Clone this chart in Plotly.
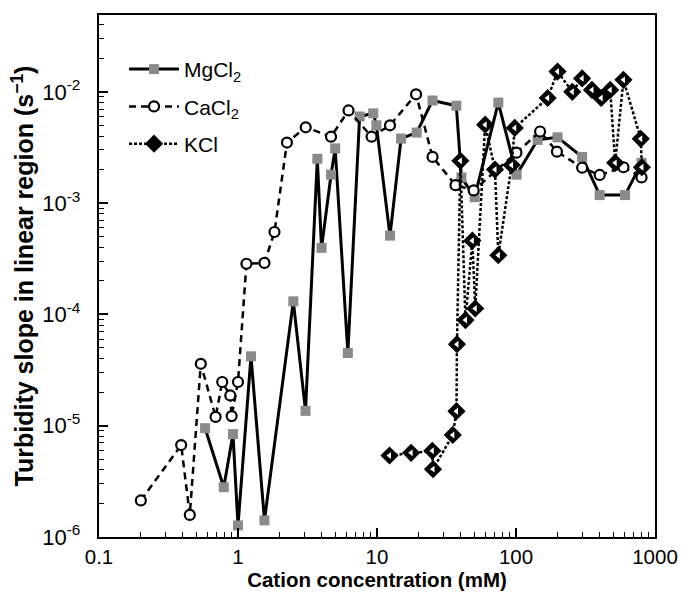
import plotly.graph_objects as go

# ---- data ----
mg_x = [0.58, 0.79, 0.92, 1.0, 1.24, 1.55, 2.5, 3.06, 3.72, 3.99, 4.67, 5.0, 6.17,
        7.5, 9.4, 9.9, 12.4, 14.9, 19.3, 25.1, 37.2, 40.5, 50.4, 74.6, 101, 143,
        199, 299, 400, 609, 800]
mg_y = [9.5e-6, 2.8e-6, 8.4e-6, 1.27e-6, 4.2e-5, 1.41e-6, 1.31e-4, 1.36e-5, 2.5e-3,
        3.96e-4, 1.8e-3, 3.1e-3, 4.5e-5, 6.0e-3, 6.4e-3, 5.0e-3, 5.1e-4, 3.8e-3,
        4.3e-3, 8.35e-3, 7.5e-3, 1.7e-3, 1.13e-3, 8.0e-3, 1.8e-3, 3.7e-3, 3.9e-3,
        2.6e-3, 1.18e-3, 1.18e-3, 2.3e-3]

ca_x = [0.2, 0.39, 0.45, 0.54, 0.69, 0.77, 0.88, 0.9, 1.0, 1.15, 1.55, 1.83, 2.25,
        3.07, 4.67, 6.24, 9.14, 12.4, 19.1, 25.1, 36.7, 49.6, 100.7, 149, 197, 299,
        400, 593, 800]
ca_y = [2.13e-6, 6.7e-6, 1.58e-6, 3.6e-5, 1.2e-5, 2.47e-5, 1.87e-5, 1.22e-5, 2.47e-5,
        2.85e-4, 2.9e-4, 5.5e-4, 3.5e-3, 4.8e-3, 3.95e-3, 6.8e-3, 3.95e-3, 5.0e-3,
        9.5e-3, 2.6e-3, 1.45e-3, 1.3e-3, 2.84e-3, 4.4e-3, 2.9e-3, 2.08e-3, 1.79e-3,
        2.1e-3, 1.7e-3]

k_x = [12.3, 17.6, 25.0, 25.3, 35.1, 37.3, 37.6, 39.8, 43.3, 48.5, 50.9, 60, 70.6,
       74.6, 93, 98, 169, 199, 254, 299, 352, 410, 476, 517, 593, 790, 805]
k_y = [5.4e-6, 5.7e-6, 5.95e-6, 4.07e-6, 8.26e-6, 1.35e-5, 5.4e-5, 2.4e-3, 8.9e-5,
       4.6e-4, 1.13e-4, 5.07e-3, 2.0e-3, 3.4e-4, 2.2e-3, 4.74e-3, 8.8e-3, 1.52e-2,
       1.0e-2, 1.32e-2, 1.04e-2, 8.8e-3, 1.04e-2, 2.3e-3, 1.28e-2, 3.78e-3, 2.1e-3]

x_tickvals = [0.1, 1, 10, 100, 1000]
x_ticktext = ["0.1", "1", "10", "100", "1000"]
y_tickvals = [1e-6, 1e-5, 1e-4, 1e-3, 1e-2]
y_ticktext = ["10<sup>-6</sup>\u00a0\u00a0", "10<sup>-5</sup>\u00a0\u00a0",
              "10<sup>-4</sup>\u00a0\u00a0", "10<sup>-3</sup>\u00a0\u00a0",
              "10<sup>-2</sup>\u00a0\u00a0"]
X_RANGE = [-1, 3]
Y_RANGE = [-6, -1.31]

# minor tick positions (2..9 in each decade)
x_minor = [m * 10 ** e for e in range(-1, 3) for m in range(2, 10)]
y_minor = [m * 10 ** e for e in range(-6, -1) for m in range(2, 10)]

FONT = "Liberation Sans, Arial, sans-serif"

fig = go.Figure()

fig.add_trace(go.Scatter(
    x=mg_x, y=mg_y, mode="lines+markers", name="MgCl<sub>2</sub>",
    legendgroup="mg",
    line=dict(color="black", width=3),
    marker=dict(symbol="square", size=10, color="#8a8a8a",
                line=dict(color="#8a8a8a", width=0)),
))

fig.add_trace(go.Scatter(
    x=ca_x, y=ca_y, mode="lines+markers", name="CaCl<sub>2</sub>",
    legendgroup="ca",
    line=dict(color="black", width=2.5, dash="7px,5px"),
    marker=dict(symbol="circle", size=10, color="white",
                line=dict(color="black", width=2.2)),
))

fig.add_trace(go.Scatter(
    x=k_x, y=k_y, mode="lines+markers", name="KCl",
    legendgroup="k",
    line=dict(color="black", width=2.5, dash="3px,2px"),
    marker=dict(symbol="diamond", size=14, color="black",
                line=dict(color="black", width=0)),
))
fig.add_trace(go.Scatter(
    x=k_x, y=k_y, mode="markers", name="KCl",
    legendgroup="k", showlegend=False,
    marker=dict(symbol="triangle-left", size=6, color="white",
                line=dict(width=0)),
))

# invisible trace on overlay axes carrying minor ticks
fig.add_trace(go.Scatter(
    x=[x_minor[0]], y=[y_minor[0]], xaxis="x2", yaxis="y2",
    mode="markers", marker=dict(opacity=0), showlegend=False, hoverinfo="skip",
))

axis_common = dict(showgrid=False, zeroline=False, tickcolor="black")

fig.update_layout(
    xaxis=dict(
        type="log", range=X_RANGE,
        tickvals=x_tickvals, ticktext=x_ticktext,
        ticks="inside", ticklen=9, tickwidth=1.5,
        showline=True, linewidth=2, linecolor="black", mirror=True,
        tickfont=dict(size=20.5, color="black", family=FONT),
        title=dict(text="<b>Cation concentration (mM)</b>",
                   font=dict(size=20.5, color="black", family=FONT), standoff=1),
        **axis_common,
    ),
    yaxis=dict(
        type="log", range=Y_RANGE,
        tickvals=y_tickvals, ticktext=y_ticktext,
        ticks="inside", ticklen=9, tickwidth=1.5,
        showline=True, linewidth=2, linecolor="black", mirror=True,
        tickfont=dict(size=22, color="black", family=FONT),
        title=dict(text="<b>Turbidity slope in linear region (s<sup>−1</sup>)</b>",
                   font=dict(size=25, color="black", family=FONT), standoff=1),
        **axis_common,
    ),
    xaxis2=dict(
        type="log", range=X_RANGE, overlaying="x", anchor="y",
        tickvals=x_minor, ticks="inside", ticklen=5, tickwidth=1,
        showticklabels=False, showline=False, **axis_common,
    ),
    yaxis2=dict(
        type="log", range=Y_RANGE, overlaying="y", anchor="x",
        tickvals=y_minor, ticks="inside", ticklen=5, tickwidth=1,
        showticklabels=False, showline=False, **axis_common,
    ),
    width=690, height=595,
    margin=dict(l=99, r=28, t=15, b=55),
    plot_bgcolor="white", paper_bgcolor="white",
    font=dict(family=FONT, color="black"),
    legend=dict(
        x=0.045, y=0.935, xanchor="left", yanchor="top",
        bgcolor="rgba(0,0,0,0)", borderwidth=0,
        font=dict(size=21, color="black", family=FONT),
        tracegroupgap=7, itemwidth=50,
    ),
    showlegend=True,
)

fig.write_html("out.html")
